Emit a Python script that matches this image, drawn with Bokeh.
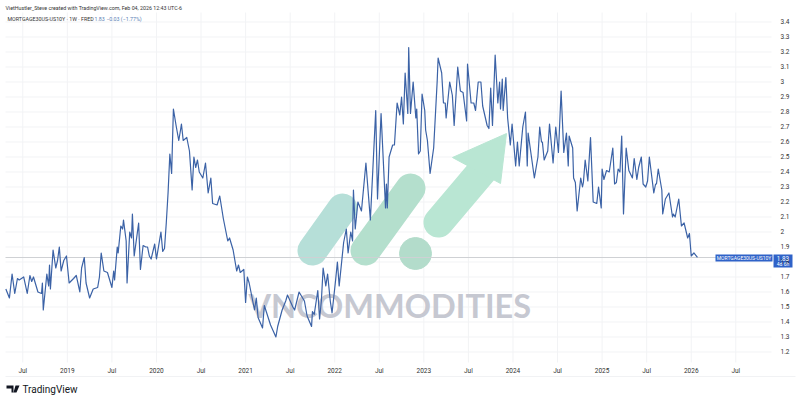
from bokeh.plotting import figure
from bokeh.embed import file_html
from bokeh.resources import INLINE
from bokeh.core.properties import value
from bokeh.models import Range1d, LinearAxis, FixedTicker, Label

dates = [
2018.31,2018.35,2018.38,2018.41,2018.44,2018.46,2018.51,2018.55,2018.58,2018.60,
2018.62,2018.67,2018.71,2018.72,2018.73,2018.77,2018.79,2018.80,2018.81,2018.84,
2018.87,2018.89,2018.91,2018.93,2018.96,2018.99,2019.02,2019.07,2019.10,2019.14,
2019.16,2019.19,2019.21,2019.25,2019.29,2019.34,2019.36,2019.38,2019.41,2019.45,
2019.50,2019.52,2019.53,2019.56,2019.57,2019.60,2019.62,2019.63,2019.66,2019.67,
2019.70,2019.72,2019.73,2019.75,2019.80,2019.82,2019.85,2019.88,2019.90,2019.92,
2019.94,2019.98,2020.00,2020.05,2020.07,2020.09,2020.11,2020.13,2020.15,2020.17,
2020.19,2020.22,2020.25,2020.27,2020.28,2020.30,2020.34,2020.37,2020.40,2020.42,
2020.44,2020.46,2020.48,2020.52,2020.55,2020.58,2020.61,2020.63,2020.68,2020.71,
2020.75,2020.77,2020.80,2020.82,2020.86,2020.90,2020.92,2020.94,2020.98,2021.00,
2021.02,2021.04,2021.10,2021.12,2021.14,2021.19,2021.21,2021.28,2021.31,2021.34,
2021.36,2021.41,2021.45,2021.47,2021.53,2021.55,2021.60,2021.66,2021.69,2021.74,
2021.75,2021.77,2021.81,2021.83,2021.85,2021.87,2021.90,2021.92,2021.95,2021.97,
2022.01,2022.03,2022.05,2022.10,2022.13,2022.15,2022.18,2022.20,2022.21,2022.23,
2022.26,2022.30,2022.35,2022.40,2022.46,2022.48,2022.52,2022.57,2022.58,2022.59,
2022.61,2022.65,2022.67,2022.70,2022.73,2022.75,2022.77,2022.79,2022.82,2022.83,
2022.85,2022.88,2022.91,2022.92,2022.94,2022.96,2022.98,2023.01,2023.02,2023.04,
2023.07,2023.11,2023.15,2023.16,2023.20,2023.22,2023.24,2023.25,2023.29,2023.32,
2023.34,2023.38,2023.41,2023.44,2023.48,2023.49,2023.53,2023.56,2023.58,2023.61,
2023.64,2023.66,2023.71,2023.73,2023.75,2023.77,2023.80,2023.83,2023.85,2023.86,
2023.88,2023.89,2023.92,2023.94,2023.97,2023.99,2024.03,2024.05,2024.07,2024.11,
2024.14,2024.16,2024.17,2024.24,2024.28,2024.30,2024.32,2024.33,2024.35,2024.39,
2024.41,2024.45,2024.48,2024.51,2024.54,2024.57,2024.60,2024.62,2024.63,2024.67,
2024.68,2024.70,2024.72,2024.76,2024.78,2024.79,2024.81,2024.84,2024.87,2024.90,
2024.94,2024.96,2024.99,2025.00,2025.02,2025.05,2025.08,2025.12,2025.14,2025.16,
2025.18,2025.20,2025.22,2025.24,2025.27,2025.30,2025.34,2025.36,2025.39,2025.41,
2025.44,2025.46,2025.49,2025.51,2025.53,2025.58,2025.60,2025.61,2025.63,2025.67,
2025.68,2025.71,2025.75,2025.79,2025.80,2025.82,2025.86,2025.89,2025.92,2025.96,
2025.98,2026.00,2026.03,2026.07]
spread = [
1.62,1.56,1.72,1.59,1.69,1.68,1.70,1.59,1.71,1.67,
1.70,1.60,1.59,1.66,1.48,1.72,1.64,1.78,1.62,1.88,
1.76,1.81,1.90,1.74,1.81,1.84,1.66,1.69,1.71,1.60,
1.76,1.83,1.66,1.56,1.62,1.63,1.70,1.86,1.74,1.73,
1.63,1.74,1.68,1.90,1.86,2.04,2.02,2.08,1.94,1.66,
2.00,1.96,2.12,1.84,2.06,1.75,1.91,1.90,1.90,1.84,
1.82,1.92,1.82,2.00,1.87,1.89,2.06,2.26,2.52,2.39,
2.82,2.71,2.61,2.68,2.72,2.61,2.63,2.54,2.28,2.50,
2.43,2.48,2.40,2.36,2.46,2.26,2.36,2.19,2.18,2.24,
2.09,2.03,1.94,1.96,1.88,1.74,1.78,1.73,1.75,1.53,
1.70,1.66,1.48,1.56,1.43,1.36,1.51,1.38,1.34,1.30,
1.37,1.48,1.54,1.58,1.50,1.48,1.60,1.54,1.44,1.37,
1.47,1.45,1.61,1.42,1.54,1.76,1.64,1.72,1.54,1.46,
1.68,1.80,1.64,1.93,2.02,1.86,2.00,1.94,2.28,2.02,
2.20,2.14,2.46,2.08,2.81,2.22,2.79,2.16,2.32,2.16,
2.50,2.58,2.58,2.86,2.78,2.90,2.72,3.06,2.79,3.23,
2.79,3.00,2.76,2.82,2.52,2.54,2.92,2.81,2.68,2.61,
2.39,2.56,3.01,3.16,3.06,2.86,2.86,2.76,3.00,2.91,
2.71,3.10,2.94,2.93,2.74,3.12,2.86,2.86,2.81,3.00,
3.00,2.84,2.71,2.69,2.96,2.71,3.18,2.86,3.00,2.82,
3.02,2.81,3.03,2.76,2.58,2.72,2.44,2.60,2.44,2.70,
2.80,2.44,2.66,2.36,2.50,2.70,2.60,2.60,2.48,2.54,
2.72,2.46,2.70,2.53,2.94,2.53,2.66,2.44,2.64,2.56,
2.36,2.33,2.14,2.36,2.30,2.33,2.48,2.34,2.63,2.20,
2.19,2.30,2.16,2.42,2.35,2.41,2.40,2.56,2.32,2.33,
2.42,2.40,2.64,2.12,2.56,2.41,2.36,2.49,2.35,2.43,
2.50,2.32,2.30,2.34,2.50,2.26,2.32,2.32,2.42,2.28,
2.12,2.22,2.26,2.10,2.12,2.10,2.22,2.04,2.06,1.96,
1.99,1.84,1.86,1.83]

x_ticks = [2018.5,2019,2019.5,2020,2020.5,2021,2021.5,2022,2022.5,2023,2023.5,2024,2024.5,2025,2025.5,2026,2026.5]
x_labels = ["Jul","2019","Jul","2020","Jul","2021","Jul","2022","Jul","2023","Jul","2024","Jul","2025","Jul","2026","Jul"]
y_ticks = [1.2,1.3,1.4,1.5,1.6,1.7,1.8,1.9,2.0,2.1,2.2,2.3,2.4,2.5,2.6,2.7,2.8,2.9,3.0,3.1,3.2,3.3,3.4]
y_labels = ["1.2","1.3","1.4","1.5","1.6","1.7","1.8","1.9","2","2.1","2.2","2.3","2.4","2.5","2.6","2.7","2.8","2.9","3","3.1","3.2","3.3","3.4"]
last_value = 1.83

FONT = "Roboto"
# picture pixels to axis values: the frame fills the whole canvas
X = lambda px: 2018.25 + 0.01122 * px
Y = lambda py: 3.5433 - py / 150

p = figure(width=800, height=402, output_backend="svg", toolbar_location=None,
           x_range=Range1d(X(0), X(800)), y_range=Range1d(Y(402), Y(0)),
           x_axis_location=None, y_axis_location=None, min_border=0,
           background_fill_color="white", outline_line_color=None)
p.grid.visible = False

GRID = "#f2f3f5"
p.segment(x_ticks, [Y(12)] * len(x_ticks), x_ticks, [Y(362)] * len(x_ticks), line_color=GRID, line_width=1)
p.segment([X(5)] * len(y_ticks), y_ticks, [X(771)] * len(y_ticks), y_ticks, line_color=GRID, line_width=1)
p.segment([X(5)], [Y(376)], [X(795)], [Y(376)], line_color="#f1f2f4", line_width=1)

xax = LinearAxis(ticker=FixedTicker(ticks=x_ticks), major_label_overrides=dict(zip(x_ticks, x_labels)),
                 fixed_location=Y(358), axis_line_color=None, major_tick_line_color=None,
                 minor_tick_line_color=None, major_label_text_font=FONT, major_label_text_font_size="6.5px",
                 major_label_text_color="#333333", major_label_standoff=2)
p.add_layout(xax, "below")
yax = LinearAxis(ticker=FixedTicker(ticks=y_ticks), major_label_overrides=dict(zip(y_ticks, y_labels)),
                 fixed_location=X(771), axis_line_color=None, major_tick_line_color=None,
                 minor_tick_line_color=None, major_label_text_font=FONT, major_label_text_font_size="6.5px",
                 major_label_text_color="#333333", major_label_standoff=3)
p.add_layout(yax, "right")

def pill(x0, y0, x1, y1, colour, w=30):
    p.line([X(x0), X(x1)], [Y(y0), Y(y1)], line_width=w, line_cap="round", line_color=colour)
pill(312, 250, 342, 208, "#b6dfd8")
pill(365, 250, 410, 188, "#b4dfcd")
pill(438, 222, 482, 170, "#b9e6d3")
p.patch([X(506), X(452), X(500)], [Y(133), Y(157), Y(183)], color="#b9e6d3")
p.scatter([X(415)], [Y(253)], size=32, color="#b3dccb")
p.text([X(248)], [Y(305)], text=["VNCOMMODITIES"], text_font=value("Lato"), text_font_style="bold",
       text_font_size="32.5px", text_color="#c6c8d1", text_baseline="middle", text_align="left")

p.segment([X(5)], [last_value], [X(771)], [last_value], line_color="#cfd1d4", line_width=1)
p.line(dates, spread, line_color="#3b62a6", line_width=1.2, line_join="round")

def lab(px, py, text, color="#333333", size="5.3px", style="normal", align="left"):
    p.add_layout(Label(x=X(px), y=Y(py), text=text, text_color=color, text_font=FONT, text_font_size=size,
                       text_font_style=style, text_align=align, text_baseline="middle"))
def poly(xs, ys, color):
    p.patch([X(a) for a in xs], [Y(b) for b in ys], color=color, line_color=None)

lab(5, 7, "VietHustler_Steve created with TradingView.com, Feb 04, 2026 12:43 UTC-6")
lab(7, 18.5, "MORTGAGE30US-US10Y · 1W · FRED")
lab(94, 18.5, "1.83  −0.03 (−1.77%)", color="#5b7fb5")

poly([715, 772, 772, 715], [254, 254, 261, 261], "#2f62c8")
lab(743.5, 257.5, "MORTGAGE30US-US10Y", color="white", size="5px", align="center")
poly([773, 792, 792, 773], [254, 254, 267, 267], "#2f62c8")
lab(782.5, 257.5, "1.83", color="white", size="6.3px", align="center")
lab(782.5, 263.5, "4d 6h", color="white", size="5px", align="center")

poly([6, 13, 13, 11, 11, 8, 8, 6], [385, 385, 392, 392, 388, 388, 388, 388], "#131722")
poly([15, 19, 16, 13], [385, 385, 392, 392], "#131722")
lab(22, 389, "TradingView", color="#131722", size="10px", style="normal")

open("out.html", "w").write(file_html(p, INLINE))
